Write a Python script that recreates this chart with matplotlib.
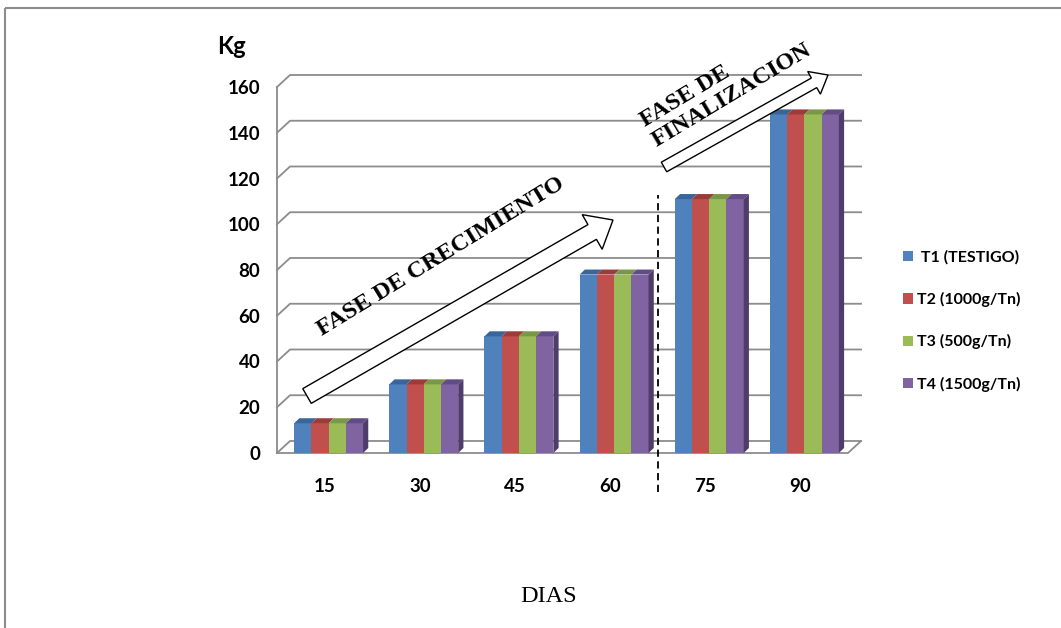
import matplotlib
matplotlib.use('Agg')
import numpy as np
from matplotlib import pyplot as plt
from matplotlib import transforms
from matplotlib.patches import Polygon, FancyArrow, Rectangle

dias = ['15', '30', '45', '60', '75', '90']
labels = [' T1 (TESTIGO)', 'T2 (1000g/Tn)', 'T3 (500g/Tn)', 'T4 (1500g/Tn)']
t1 = [13, 30, 51, 78, 111, 148]
t2 = [13, 30, 51, 78, 111, 148]
t3 = [13, 30, 51, 78, 111, 148]
t4 = [13, 30, 51, 78, 111, 148]
y_ticks = [0, 20, 40, 60, 80, 100, 120, 140, 160]

colors = ['#4F81BD', '#C0504D', '#9BBB59', '#8064A2']
tops = ['#3A6599', '#9C3B39', '#7A9745', '#624C85']
side = '#4E3D6B'
grid = '#8C8C8C'

W, H = 1061, 628
fig = plt.figure(figsize=(W / 100, H / 100), dpi=100)
# pixel coords, origin top-left
px = transforms.Affine2D().scale(1 / W, -1 / H).translate(0, 1) + fig.transFigure

ax = fig.add_axes([277 / W, 175 / H, 571 / W, 366 / H])
ax.set_xlim(-0.5, 5.5)
ax.set_ylim(0, 160)
for s in ax.spines.values():
    s.set_visible(False)

# 3d walls
wdx, wdy = 0.137, 5.25
for v in y_ticks:
    ax.plot([-0.5, -0.5 + wdx, 5.5 + wdx], [v, v + wdy, v + wdy], color=grid,
            lw=1.3, clip_on=False, zorder=0)
ax.plot([-0.5, -0.5], [0, 160], color=grid, lw=1.3, clip_on=False, zorder=0)
ax.plot([-0.5, 5.5, 5.5 + wdx], [0, 0, wdy], color=grid, lw=1.3, clip_on=False, zorder=0)

# bars
x = np.arange(len(dias))
bw = 0.181
bdx, bdy = 0.055, 2.2
handles = []
for i, vals in enumerate([t1, t2, t3, t4]):
    pos = x - 0.32 + i * bw + bw / 2
    b = ax.bar(pos, vals, width=bw, color=colors[i], zorder=3 + i, label=labels[i])
    handles.append(b)
    for p, h in zip(pos, vals):
        l, r = p - bw / 2, p + bw / 2
        ax.add_patch(Polygon([(l, h), (l + bdx, h + bdy), (r + bdx, h + bdy), (r, h)],
                             closed=True, fc=tops[i], ec='none', zorder=3 + i))
        if i == 3:
            ax.add_patch(Polygon([(r, 0), (r + bdx, bdy), (r + bdx, h + bdy), (r, h)],
                                 closed=True, fc=side, ec='none', zorder=3 + i))

ax.set_yticks(y_ticks)
ax.set_yticklabels([str(v) for v in y_ticks], fontfamily='Lato', fontweight='bold', fontsize=13.5)
ax.set_xticks(x)
ax.set_xticklabels(dias, fontfamily='Lato', fontweight='bold', fontsize=13.5)
ax.tick_params(axis='y', length=0, pad=12)
ax.tick_params(axis='x', length=0, pad=18)

# dashed separator
ax.plot([3.5, 3.5], [-17, 113], color='black', lw=1.3, ls=(0, (4, 2.5)), clip_on=False, zorder=8)

fig.text(231, 47, 'Kg', transform=px, ha='center', va='center', fontfamily='Lato',
         fontweight='bold', fontsize=17)
fig.text(549, 596, 'DIAS', transform=px, ha='center', va='center',
         fontfamily='Liberation Serif', fontsize=17.5)

# arrows
a1 = FancyArrow(307, 396, 306, -176, width=17, head_width=40, head_length=24,
                length_includes_head=True, transform=px, fc='white', ec='black', lw=1, zorder=5)
a2 = FancyArrow(664, 167, 164, -92, width=11, head_width=26, head_length=16,
                length_includes_head=True, transform=px, fc='white', ec='black', lw=1, zorder=5)
fig.add_artist(a1)
fig.add_artist(a2)

fig.text(441, 257, 'FASE DE CRECIMIENTO', transform=px, ha='center', va='center',
         rotation=31.5, rotation_mode='anchor', fontfamily='Liberation Serif',
         fontweight='bold', fontsize=17.5)
fig.text(726, 85, 'FASE DE\nFINALIZACION', transform=px, ha='center', va='center',
         multialignment='left', rotation=31, rotation_mode='anchor',
         fontfamily='Liberation Serif', fontweight='bold', fontsize=17.5, linespacing=1.15)

leg = ax.legend(handles=handles, labels=labels, loc='center left',
                bbox_to_anchor=(903 / W, 1 - 321 / H), bbox_transform=fig.transFigure,
                frameon=False, borderpad=0, borderaxespad=0, handletextpad=0.25,
                handlelength=0.6, handleheight=0.6, labelspacing=1.7,
                prop={'family': 'Lato', 'weight': 'bold', 'size': 11.5})

# outer frame
fig.add_artist(Rectangle((5, 8), W, H, transform=px, fill=False, ec='#8C8C8C', lw=1.5))

fig.savefig('out.png', dpi=100)
